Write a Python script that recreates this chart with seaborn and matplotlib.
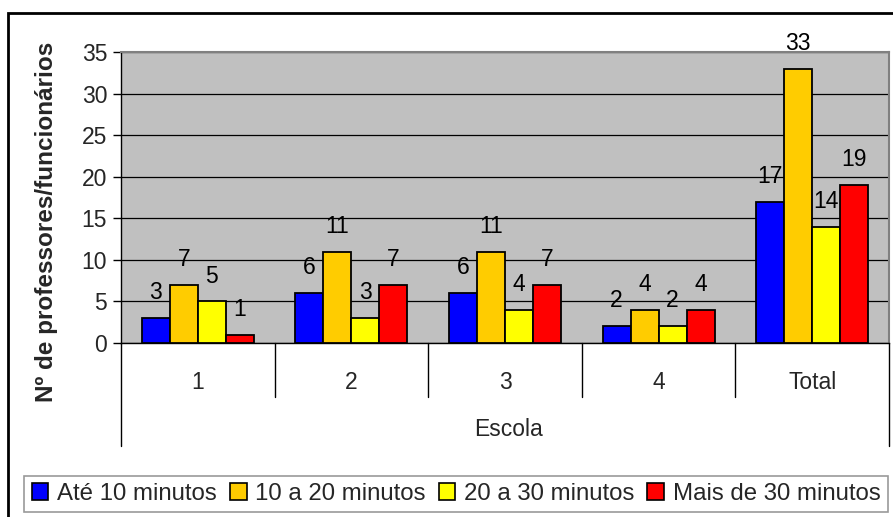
import matplotlib
matplotlib.use("Agg")
import matplotlib.pyplot as plt
import seaborn as sns
import pandas as pd
from matplotlib.patches import Rectangle
from matplotlib.lines import Line2D

categories = ["1", "2", "3", "4", "Total"]
series_names = ["Até 10 minutos", "10 a 20 minutos", "20 a 30 minutos", "Mais de 30 minutos"]
ate10 = [3, 6, 6, 2, 17]
de10a20 = [7, 11, 11, 4, 33]
de20a30 = [5, 3, 4, 2, 14]
mais30 = [1, 7, 7, 4, 19]
colors = ["#0000FF", "#FFCC00", "#FFFF00", "#FF0000"]
y_ticks = [0, 5, 10, 15, 20, 25, 30, 35]
x_title = "Escola"
y_title = "Nº de professores/funcionários"

rows = []
for name, vals in zip(series_names, [ate10, de10a20, de20a30, mais30]):
    for c, v in zip(categories, vals):
        rows.append({"Escola": c, "Serie": name, "Valor": v})
df = pd.DataFrame(rows)

sns.set_theme(style="white")
plt.rcParams["font.family"] = ["Liberation Sans", "DejaVu Sans"]

FS = 16.5
W, H = 893, 517
fig = plt.figure(figsize=(W / 100, H / 100), dpi=100)
L, R, T, B = 121, 889, 52, 343
ax = fig.add_axes([L / W, 1 - B / H, (R - L) / W, (B - T) / H])

sns.barplot(data=df, x="Escola", y="Valor", hue="Serie", order=categories,
            hue_order=series_names, palette=colors, width=0.73, gap=0,
            edgecolor="black", linewidth=1.3, saturation=1, ax=ax, legend=False,
            errorbar=None, zorder=3)

ax.set_facecolor("#C0C0C0")
ax.set_xlim(-0.5, 4.5)
ax.set_ylim(0, 35)
ax.set_yticks(y_ticks)
ax.tick_params(axis="y", direction="out", length=6, width=1, color="black",
               labelsize=FS, pad=4, left=True)
ax.yaxis.grid(True, color="black", linewidth=0.9, zorder=0)
ax.set_axisbelow(True)
ax.set_xticks(range(len(categories)))
ax.set_xticklabels(categories, fontsize=FS)
ax.tick_params(axis="x", length=0, pad=20)
ax.set_xlabel("")
ax.set_ylabel("")
for s in ["top", "right"]:
    ax.spines[s].set_color("#808080")
    ax.spines[s].set_linewidth(1.5)
ax.spines["left"].set_color("black")
ax.spines["left"].set_linewidth(1)
ax.spines["bottom"].set_color("black")
ax.spines["bottom"].set_linewidth(1)

# value labels
for cont in ax.containers:
    ax.bar_label(cont, labels=[f"{int(b.get_height())}" for b in cont],
                 padding=10, fontsize=FS, color="black")

# category separators
trans = ax.get_xaxis_transform()
axh = B - T
for i, xb in enumerate([-0.5, 0.5, 1.5, 2.5, 3.5, 4.5]):
    depth = (446 - B) if i in (0, 5) else (397 - B)
    ax.add_line(Line2D([xb, xb], [0, -depth / axh], transform=trans,
                       color="black", linewidth=1, clip_on=False))

fig.text(508 / W, 1 - 430 / H, x_title, ha="center", va="center", fontsize=FS)
fig.text(47 / W, 1 - 222 / H, y_title, ha="center", va="center", rotation=90,
         fontsize=17.5, fontweight="bold")

# legend
handles = [Rectangle((0, 0), 1, 1, facecolor=c, edgecolor="black", linewidth=1.2)
           for c in colors]
leg = fig.legend(handles, series_names, loc="center", ncol=4,
                 bbox_to_anchor=(456 / W, 1 - 494 / H), fontsize=17.3,
                 frameon=True, fancybox=False, edgecolor="#808080",
                 handlelength=0.7, handleheight=0.7, handletextpad=0.35,
                 columnspacing=0.55, borderpad=0.3)
leg.get_frame().set_linewidth(1.2)

# outer frame
fig.add_artist(Rectangle((8 / W, -0.05), 1.0, 1 - 13 / H + 0.05,
                         transform=fig.transFigure, fill=False,
                         edgecolor="black", linewidth=2))

fig.savefig("out.png", dpi=100)
